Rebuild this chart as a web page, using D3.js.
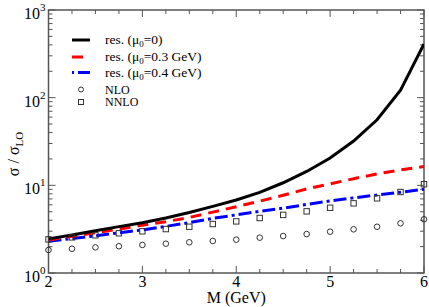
<!DOCTYPE html>
<html><head><meta charset="utf-8">
<script src="https://cdn.jsdelivr.net/npm/d3@7"></script>
<style>body{margin:0;background:#fff}svg{display:block}</style>
</head><body><svg id="c" width="429" height="307" font-family="'Liberation Serif', 'Times New Roman', serif"></svg>
<script>
const M = [2,2.25,2.5,2.75,3,3.25,3.5,3.75,4,4.25,4.5,4.75,5,5.25,5.5,5.75,6];
const res0  = [2.45,2.72,3.03,3.38,3.75,4.25,4.9,5.75,6.8,8.3,10.7,14.4,20.5,32,56,122,410];
const res03 = [2.38,2.62,2.88,3.17,3.5,3.85,4.3,4.95,5.7,6.6,7.7,9.1,10.4,11.9,13.5,15,16.4];
const res04 = [2.3,2.47,2.66,2.87,3.1,3.4,3.75,4.2,4.6,5.05,5.5,6.05,6.65,7.2,7.75,8.35,9.0];
const nlo   = [1.83,1.89,1.96,2.02,2.09,2.16,2.24,2.32,2.40,2.53,2.64,2.78,2.96,3.15,3.37,3.69,4.10];
const nnlo  = [2.42,2.55,2.69,2.84,2.99,3.17,3.37,3.62,3.88,4.24,4.6,5.05,5.55,6.23,7.11,8.39,10.3];
const xTicks = [2,3,4,5,6];
const yTickExp = [0,1,2,3];
const legendLabels = ["res. (μ0=0)","res. (μ0=0.3 GeV)","res. (μ0=0.4 GeV)","NLO","NNLO"];

const FF = "'Liberation Serif', 'Times New Roman', serif";
const svg = d3.select("#c");
const L=48.5, R=424, T=10, B=273;
const x = d3.scaleLinear().domain([2,6]).range([L,R]);
const y = d3.scaleLog().domain([1,1000]).range([B,T]);
const axCol="#555";

const g = svg.append("g");
d3.range(2,6.001,0.25).forEach(v=>{
  const major = Math.abs(v-Math.round(v))<1e-6;
  const len = major?7:4;
  g.append("line").attr("x1",x(v)).attr("x2",x(v)).attr("y1",B).attr("y2",B-len).attr("stroke",axCol);
  g.append("line").attr("x1",x(v)).attr("x2",x(v)).attr("y1",T).attr("y2",T+len).attr("stroke",axCol);
});
const minorY=[];
for(let e=0;e<3;e++) for(let k=1;k<10;k++) minorY.push(k*Math.pow(10,e));
minorY.push(1000);
minorY.forEach(v=>{
  const major = Math.abs(Math.log10(v)-Math.round(Math.log10(v)))<1e-9;
  const len = major?7:4;
  g.append("line").attr("x1",L).attr("x2",L+len).attr("y1",y(v)).attr("y2",y(v)).attr("stroke",axCol);
  g.append("line").attr("x1",R).attr("x2",R-len).attr("y1",y(v)).attr("y2",y(v)).attr("stroke",axCol);
});
svg.append("rect").attr("x",L).attr("y",T).attr("width",R-L).attr("height",B-T).attr("fill","none").attr("stroke",axCol).attr("stroke-width",1.5);

function txt(){ return svg.append("text").attr("font-family",FF).attr("fill","#000"); }

xTicks.forEach(v=>{
  txt().attr("x",x(v)).attr("y",287).attr("text-anchor","middle").attr("font-size",16).text(v);
});
yTickExp.forEach(e=>{
  const t = txt().attr("x",24).attr("y",y(Math.pow(10,e))+9).attr("font-size",16);
  t.append("tspan").text("10");
  t.append("tspan").attr("dy",-8).attr("font-size",11).text(e);
});
txt().attr("x",x(4)).attr("y",303).attr("text-anchor","middle").attr("font-size",16).text("M (GeV)");
const yl = txt().attr("transform","translate(19,154) rotate(-90)").attr("text-anchor","middle").attr("font-size",16);
yl.append("tspan").text("σ / σ");
yl.append("tspan").attr("dy",4).attr("font-size",11).text("LO");

const line = d3.line().x((d,i)=>x(M[i])).y(d=>y(d));
svg.append("clipPath").attr("id","cp").append("rect").attr("x",L).attr("y",T).attr("width",R-L).attr("height",B-T);
const lg = svg.append("g").attr("clip-path","url(#cp)");
lg.append("path").datum(res04).attr("d",line).attr("fill","none").attr("stroke","#0000ff").attr("stroke-width",3).attr("stroke-dasharray","13,4,3,4");
lg.append("path").datum(res03).attr("d",line).attr("fill","none").attr("stroke","#ff0000").attr("stroke-width",3).attr("stroke-dasharray","11,7");
lg.append("path").datum(res0).attr("d",line).attr("fill","none").attr("stroke","#000").attr("stroke-width",3);

svg.selectAll(".nlo").data(nlo).enter().append("circle").attr("cx",(d,i)=>x(M[i])).attr("cy",d=>y(d)).attr("r",2.8).attr("fill","none").attr("stroke","#333").attr("stroke-width",1);
svg.selectAll(".nnlo").data(nnlo).enter().append("rect").attr("x",(d,i)=>x(M[i])-2.7).attr("y",d=>y(d)-2.7).attr("width",5.4).attr("height",5.4).attr("fill","none").attr("stroke","#333").attr("stroke-width",1);

const rows=[40,57,72.5,89.5,102];
const lx1=72, lx2=90, tx=105;
const styles=[["#000",null],["#ff0000","11,7"],["#0000ff","2,4,12,4"]];
styles.forEach((s,i)=>{
  const l=svg.append("line").attr("x1",lx1).attr("x2",lx2).attr("y1",rows[i]).attr("y2",rows[i]).attr("stroke",s[0]).attr("stroke-width",3);
  if(s[1]) l.attr("stroke-dasharray",s[1]);
  const t=txt().attr("x",tx).attr("y",rows[i]+4).attr("font-size",13.5);
  const parts = legendLabels[i].split("μ0");
  t.append("tspan").text(parts[0]+"μ");
  t.append("tspan").attr("dy",3).attr("font-size",9).text("0");
  t.append("tspan").attr("dy",-3).text(parts[1]);
});
svg.append("circle").attr("cx",81).attr("cy",rows[3]).attr("r",2.5).attr("fill","none").attr("stroke","#333");
svg.append("rect").attr("x",78.5).attr("y",rows[4]-2.5).attr("width",5).attr("height",5).attr("fill","none").attr("stroke","#333");
txt().attr("x",tx).attr("y",rows[3]+4).attr("font-size",12).text(legendLabels[3]);
txt().attr("x",tx).attr("y",rows[4]+4).attr("font-size",12).text(legendLabels[4]);
</script></body></html>
